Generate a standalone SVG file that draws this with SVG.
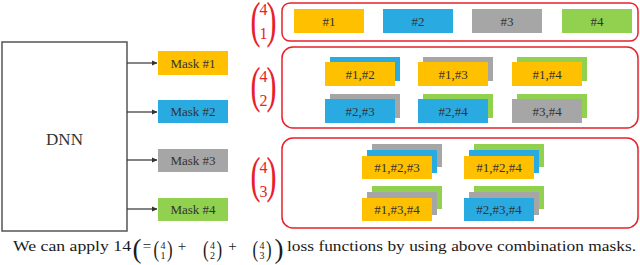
<svg xmlns="http://www.w3.org/2000/svg" width="640" height="265" viewBox="0 0 640 265">
<defs>
<style>
.y{fill:#FFC000;}
.b{fill:#29ABE2;}
.g{fill:#A6A6A6;}
.gr{fill:#92D050;}
.grp{fill:none;stroke:#E8202A;stroke-width:1.5;}
.conn{stroke:#333;stroke-width:1.2;fill:none;}
</style>
<marker id="ah" markerWidth="6" markerHeight="6" refX="5" refY="3" orient="auto" markerUnits="userSpaceOnUse">
<path d="M0,0.5 L5.5,3 L0,5.5 Z" fill="#333"/>
</marker>
</defs>
<rect width="640" height="265" fill="#fff"/>

<g id="dnn">
<rect x="2" y="42" width="125" height="189" fill="#fff" stroke="#555" stroke-width="1.5"/>
<text x="64.5" y="145" font-family="Liberation Serif" font-size="17" text-anchor="middle" fill="#333">DNN</text>
</g>

<g id="connectors">
<line class="conn" x1="127" y1="63" x2="157" y2="63" marker-end="url(#ah)"/>
<line class="conn" x1="127" y1="112" x2="157" y2="112" marker-end="url(#ah)"/>
<line class="conn" x1="127" y1="160" x2="157" y2="160" marker-end="url(#ah)"/>
<line class="conn" x1="127" y1="209" x2="157" y2="209" marker-end="url(#ah)"/>
</g>

<g font-family="Liberation Serif" font-size="13" fill="#333" text-anchor="middle">
<g id="mask1"><rect class="y" x="158" y="51" width="70" height="24"/><text font-family="Liberation Serif" x="193" y="67.5">Mask #1</text></g>
<g id="mask2"><rect class="b" x="158" y="100" width="70" height="23"/><text font-family="Liberation Serif" x="193" y="116">Mask #2</text></g>
<g id="mask3"><rect class="g" x="158" y="149" width="70" height="23"/><text font-family="Liberation Serif" x="193" y="165">Mask #3</text></g>
<g id="mask4"><rect class="gr" x="158" y="198" width="70" height="23"/><text font-family="Liberation Serif" x="193" y="214">Mask #4</text></g>

<g id="group1">
<rect class="grp" x="282" y="3" width="356" height="38" rx="8"/>
<rect class="y" x="294" y="9" width="70" height="24"/><text font-family="Liberation Serif" x="329" y="25.5">#1</text>
<rect class="b" x="383" y="9" width="70" height="24"/><text font-family="Liberation Serif" x="418" y="25.5">#2</text>
<rect class="g" x="472" y="9" width="70" height="24"/><text font-family="Liberation Serif" x="507" y="25.5">#3</text>
<rect class="gr" x="562" y="9" width="70" height="24"/><text font-family="Liberation Serif" x="597" y="25.5">#4</text>
</g>

<g id="group2">
<rect class="grp" x="282" y="47" width="356" height="81" rx="11"/>
<rect class="b" x="330" y="57" width="70" height="24"/><rect class="y" x="325" y="62" width="70" height="24"/><text font-family="Liberation Serif" x="360" y="78.5">#1,#2</text>
<rect class="g" x="423" y="57" width="70" height="24"/><rect class="y" x="418" y="62" width="70" height="24"/><text font-family="Liberation Serif" x="453" y="78.5">#1,#3</text>
<rect class="gr" x="517" y="57" width="70" height="24"/><rect class="y" x="512" y="62" width="70" height="24"/><text font-family="Liberation Serif" x="547" y="78.5">#1,#4</text>
<rect class="g" x="330" y="94" width="70" height="24"/><rect class="b" x="325" y="99" width="70" height="24"/><text font-family="Liberation Serif" x="360" y="115.5">#2,#3</text>
<rect class="gr" x="423" y="94" width="70" height="24"/><rect class="b" x="418" y="99" width="70" height="24"/><text font-family="Liberation Serif" x="453" y="115.5">#2,#4</text>
<rect class="gr" x="517" y="94" width="70" height="24"/><rect class="g" x="512" y="99" width="70" height="24"/><text font-family="Liberation Serif" x="547" y="115.5">#3,#4</text>
</g>

<g id="group3">
<rect class="grp" x="282" y="138" width="356" height="90" rx="11"/>
<rect class="g" x="372" y="144" width="70" height="23"/><rect class="b" x="367" y="150" width="70" height="23"/><rect class="y" x="362" y="156" width="70" height="23"/><text font-family="Liberation Serif" x="397" y="172">#1,#2,#3</text>
<rect class="gr" x="474" y="144" width="70" height="23"/><rect class="b" x="469" y="150" width="70" height="23"/><rect class="y" x="464" y="156" width="70" height="23"/><text font-family="Liberation Serif" x="499" y="172">#1,#2,#4</text>
<rect class="gr" x="372" y="186" width="70" height="23"/><rect class="g" x="367" y="192" width="70" height="23"/><rect class="y" x="362" y="198" width="70" height="23"/><text font-family="Liberation Serif" x="397" y="214">#1,#3,#4</text>
<rect class="gr" x="474" y="186" width="70" height="23"/><rect class="g" x="469" y="192" width="70" height="23"/><rect class="b" x="464" y="198" width="70" height="23"/><text font-family="Liberation Serif" x="499" y="214">#2,#3,#4</text>
</g>
</g>

<g fill="#E8202A" font-family="Liberation Serif">
<g id="binom41">
<text font-family="Liberation Serif" font-size="50" transform="translate(250.5,37) scale(0.6,1)">(</text>
<text font-family="Liberation Serif" font-size="50" transform="translate(266.5,37) scale(0.6,1)">)</text>
<text font-family="Liberation Serif" font-size="16" text-anchor="middle" x="263.5" y="15">4</text>
<text font-family="Liberation Serif" font-size="16" text-anchor="middle" x="263.5" y="39">1</text>
</g>
<g id="binom42">
<text font-family="Liberation Serif" font-size="50" transform="translate(250.5,102) scale(0.6,1)">(</text>
<text font-family="Liberation Serif" font-size="50" transform="translate(266.5,102) scale(0.6,1)">)</text>
<text font-family="Liberation Serif" font-size="16" text-anchor="middle" x="263.5" y="82">4</text>
<text font-family="Liberation Serif" font-size="16" text-anchor="middle" x="263.5" y="106">2</text>
</g>
<g id="binom43">
<text font-family="Liberation Serif" font-size="50" transform="translate(250.5,192) scale(0.6,1)">(</text>
<text font-family="Liberation Serif" font-size="50" transform="translate(266.5,192) scale(0.6,1)">)</text>
<text font-family="Liberation Serif" font-size="16" text-anchor="middle" x="263.5" y="172.5">4</text>
<text font-family="Liberation Serif" font-size="16" text-anchor="middle" x="263.5" y="196.5">3</text>
</g>
</g>

<g id="caption" fill="#1a1a1a" font-family="Liberation Serif">
<text font-family="Liberation Serif" font-size="15" x="13" y="251" textLength="118" lengthAdjust="spacingAndGlyphs">We can apply 14</text>
<text font-family="Liberation Serif" font-size="27" x="132.5" y="257.5">(</text>
<text font-family="Liberation Serif" font-size="15" x="147" y="251" text-anchor="middle">=</text>
<text font-family="Liberation Serif" font-size="24" transform="translate(153.5,256.5) scale(0.7,1)">(</text>
<text font-family="Liberation Serif" font-size="24" transform="translate(167,256.5) scale(0.7,1)">)</text>
<text font-family="Liberation Serif" font-size="10" text-anchor="middle" x="163" y="249">4</text>
<text font-family="Liberation Serif" font-size="10" text-anchor="middle" x="163" y="259">1</text>
<text font-family="Liberation Serif" font-size="15" x="182" y="251" text-anchor="middle">+</text>
<text font-family="Liberation Serif" font-size="24" transform="translate(203,256.5) scale(0.7,1)">(</text>
<text font-family="Liberation Serif" font-size="24" transform="translate(216.5,256.5) scale(0.7,1)">)</text>
<text font-family="Liberation Serif" font-size="10" text-anchor="middle" x="212.5" y="249">4</text>
<text font-family="Liberation Serif" font-size="10" text-anchor="middle" x="212.5" y="259">2</text>
<text font-family="Liberation Serif" font-size="15" x="232.5" y="251" text-anchor="middle">+</text>
<text font-family="Liberation Serif" font-size="24" transform="translate(252.5,256.5) scale(0.7,1)">(</text>
<text font-family="Liberation Serif" font-size="24" transform="translate(266,256.5) scale(0.7,1)">)</text>
<text font-family="Liberation Serif" font-size="10" text-anchor="middle" x="262" y="249">4</text>
<text font-family="Liberation Serif" font-size="10" text-anchor="middle" x="262" y="259">3</text>
<text font-family="Liberation Serif" font-size="27" x="274.5" y="257.5">)</text>
<text font-family="Liberation Serif" font-size="15" x="287" y="251" textLength="349" lengthAdjust="spacingAndGlyphs">loss functions by using above combination masks.</text>
</g>
</svg>
